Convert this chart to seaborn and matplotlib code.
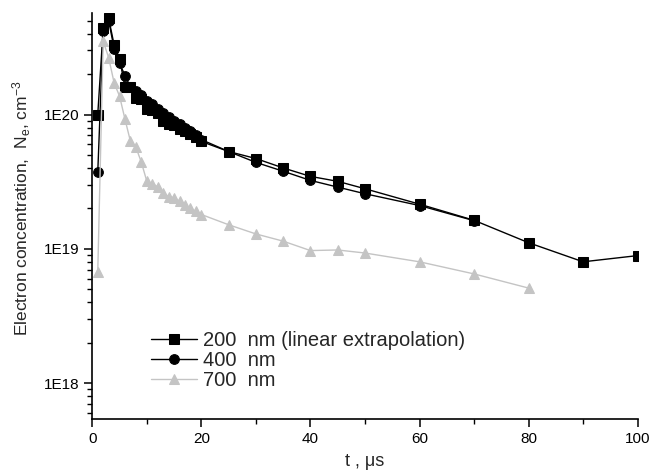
# Electron concentration vs time for three wavelengths (log y)
import numpy as np
import pandas as pd
import seaborn as sns
import matplotlib
matplotlib.use("Agg")
import matplotlib.pyplot as plt
from matplotlib.ticker import LogLocator, FuncFormatter, MultipleLocator, NullFormatter

# data
t_200 = [1, 2, 3, 4, 5, 6, 7, 8, 9, 10, 11, 12, 13, 14, 15, 16, 17, 18, 19, 20,
         25, 30, 35, 40, 45, 50, 60, 70, 80, 90, 100]
ne_200 = [1.0e20, 4.4e20, 5.2e20, 3.3e20, 2.6e20, 1.6e20, 1.6e20, 1.32e20, 1.3e20, 1.1e20,
          1.08e20, 1.02e20, 0.9e20, 0.85e20, 0.83e20, 0.78e20, 0.75e20, 0.72e20, 0.68e20, 0.63e20,
          0.53e20, 4.7e19, 4.0e19, 3.46e19, 3.18e19, 2.8e19, 2.15e19, 1.63e19, 1.11e19, 8.0e18, 8.9e18]

t_400 = [1, 2, 3, 4, 5, 6, 7, 8, 9, 10, 11, 12, 13, 14, 15, 16, 17, 18, 19, 20,
         25, 30, 35, 40, 45, 50, 60, 70]
ne_400 = [3.7e19, 4.2e20, 5.0e20, 3.1e20, 2.4e20, 1.95e20, 1.6e20, 1.5e20, 1.4e20, 1.25e20,
          1.2e20, 1.1e20, 1.02e20, 0.95e20, 0.9e20, 0.85e20, 0.8e20, 0.75e20, 0.7e20, 0.65e20,
          0.53e20, 4.4e19, 3.78e19, 3.23e19, 2.88e19, 2.57e19, 2.1e19, 1.62e19]

t_700 = [1, 2, 3, 4, 5, 6, 7, 8, 9, 10, 11, 12, 13, 14, 15, 16, 17, 18, 19, 20,
         25, 30, 35, 40, 45, 50, 60, 70, 80]
ne_700 = [6.7e18, 3.5e20, 2.65e20, 1.72e20, 1.37e20, 0.92e20, 0.63e20, 0.57e20, 0.44e20, 3.18e19,
          3.06e19, 2.89e19, 2.6e19, 2.45e19, 2.4e19, 2.26e19, 2.13e19, 2.0e19, 1.9e19, 1.8e19,
          1.51e19, 1.29e19, 1.14e19, 0.97e19, 0.98e19, 0.93e19, 0.80e19, 0.65e19, 0.51e19]

labels = ["200  nm (linear extrapolation)", "400  nm", "700  nm"]

sns.set_style("ticks")
plt.rcParams['font.family'] = ['Liberation Sans', 'DejaVu Sans']
plt.rcParams['mathtext.fontset'] = 'custom'
plt.rcParams['mathtext.rm'] = 'Liberation Sans'
plt.rcParams['mathtext.it'] = 'Liberation Sans'

fig = plt.figure(figsize=(6.5, 4.76), dpi=100)
ax = fig.add_axes([0.142, 0.1197, 0.839, 0.853])

gray = "#c4c4c4"
sns.lineplot(x=t_200, y=ne_200, ax=ax, color="black", lw=1.0, marker="s", markersize=6.5,
             markeredgecolor="black", sort=False, label=labels[0])
sns.lineplot(x=t_400, y=ne_400, ax=ax, color="black", lw=1.0, marker="o", markersize=7,
             markeredgecolor="black", sort=False, label=labels[1])
sns.lineplot(x=t_700, y=ne_700, ax=ax, color=gray, lw=1.0, marker="^", markersize=7.5,
             markeredgecolor=gray, sort=False, label=labels[2])

ax.set_yscale("log")
ax.set_xlim(0, 100)
ax.set_ylim(5.4e17, 5.7e20)

ax.xaxis.set_major_locator(MultipleLocator(20))
ax.xaxis.set_minor_locator(MultipleLocator(10))
ax.yaxis.set_major_locator(LogLocator(base=10, numticks=10))
ax.yaxis.set_minor_locator(LogLocator(base=10, subs=np.arange(2, 10), numticks=20))
ax.yaxis.set_major_formatter(FuncFormatter(lambda v, p: "1E%d" % int(round(np.log10(v)))))
ax.yaxis.set_minor_formatter(NullFormatter())

ax.tick_params(axis="both", which="major", direction="out", length=6, width=1.1,
               labelsize=11, color="black", labelcolor="black")
ax.tick_params(axis="both", which="minor", direction="out", length=3.5, width=1.0, color="black")

sns.despine(ax=ax)
for s in ["left", "bottom"]:
    ax.spines[s].set_linewidth(1.2)
    ax.spines[s].set_color("black")

ax.set_xlabel("t , \u03bcs", fontsize=13, labelpad=5)
ax.set_ylabel("Electron concentration,  N$_e$, cm$^{-3}$", fontsize=12.5)
ax.yaxis.set_label_coords(-0.108, 0.52)

ax.legend(loc="lower left", bbox_to_anchor=(0.232, 0.181), bbox_transform=fig.transFigure,
          frameon=False, fontsize=14.5, handlelength=2.3, handletextpad=0.3,
          borderpad=0, borderaxespad=0, labelspacing=0.05)

plt.savefig("out.png", dpi=100)
plt.close()
